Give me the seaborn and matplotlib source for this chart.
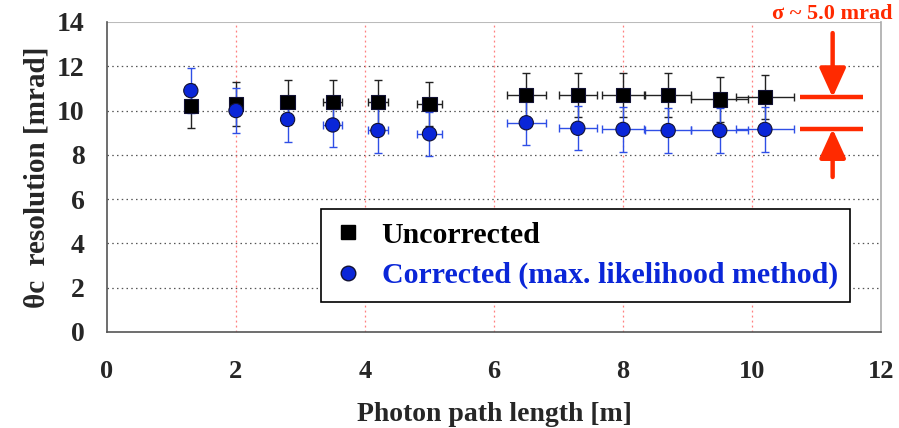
import matplotlib
matplotlib.use("Agg")
import matplotlib.pyplot as plt
from matplotlib.lines import Line2D
import numpy as np
import pandas as pd
import seaborn as sns

# ---- data ----
path_length = [1.3, 2.0, 2.8, 3.5, 4.2, 5.0, 6.5, 7.3, 8.0, 8.7, 9.5, 10.2]
uncorrected = [10.2, 10.3, 10.4, 10.4, 10.4, 10.3, 10.7, 10.7, 10.7, 10.7, 10.5, 10.6]
corrected = [10.9, 10.0, 9.6, 9.35, 9.1, 8.95, 9.45, 9.2, 9.15, 9.1, 9.1, 9.15]
x_err = [0.0, 0.0, 0.0, 0.15, 0.15, 0.19, 0.3, 0.3, 0.33, 0.36, 0.44, 0.45]
unc_yerr = [1.0] * 12
cor_yerr = [1.0] * 12
x_ticks = [0, 2, 4, 6, 8, 10, 12]
y_ticks = [0, 2, 4, 6, 8, 10, 12, 14]
sigma_lines = [10.6, 9.17]
series_labels = ["Uncorrected", "Corrected (max. likelihood method)"]

df = pd.DataFrame({
    "x": path_length * 2,
    "y": uncorrected + corrected,
    "series": [series_labels[0]] * 12 + [series_labels[1]] * 12,
})

sns.set_style("white")
plt.rcParams["font.family"] = ["Liberation Serif", "DejaVu Serif"]
plt.rcParams["font.weight"] = "bold"

BLUE = "#0a26d8"
BLUE_BAR = "#2f4fe6"
RED = "#ff2a00"

fig = plt.figure(figsize=(8.99, 4.28), dpi=100)
ax = fig.add_axes([0.119, 0.2243, 0.861, 0.7243])

# grid
for yv in y_ticks[1:-1]:
    ax.axhline(yv, color="#555555", lw=0.9, ls=(0, (1.2, 2.6)), zorder=0)
ax.axhline(14, color="#bbbbbb", lw=1.5, zorder=0)
for xv in x_ticks[1:-1]:
    ax.axvline(xv, color="#ff7f7f", lw=0.9, ls=(0, (1.5, 2.5)), zorder=0)

# error bars
ax.errorbar(path_length, uncorrected, yerr=unc_yerr, xerr=x_err, fmt="none",
            ecolor="#222222", elinewidth=1.0, capsize=3, capthick=1.0, zorder=2)
ax.errorbar(path_length, corrected, yerr=cor_yerr, xerr=x_err, fmt="none",
            ecolor=BLUE_BAR, elinewidth=1.0, capsize=3, capthick=1.0, zorder=2)

sns.scatterplot(data=df, x="x", y="y", hue="series", style="series",
                palette={series_labels[0]: "black", series_labels[1]: BLUE},
                markers={series_labels[0]: "s", series_labels[1]: "o"},
                s=105, edgecolor="#111133", linewidth=0.8, ax=ax, zorder=3, legend=False)

ax.set_xlim(0, 12)
ax.set_ylim(0, 14)
ax.set_xticks(x_ticks)
ax.set_yticks(y_ticks)
ax.tick_params(axis="x", labelsize=19, direction="out", length=6, width=1, color="#555555", pad=14)
ax.tick_params(axis="y", labelsize=20, direction="out", length=6, width=1, color="#555555", pad=10)
for lab in ax.get_xticklabels() + ax.get_yticklabels():
    lab.set_fontweight("bold")

ax.set_xlabel("Photon path length [m]", fontsize=20, fontweight="bold", labelpad=14)
ax.set_ylabel("θc  resolution [mrad]", fontsize=21, fontweight="bold", labelpad=5)

for side in ["left", "bottom"]:
    ax.spines[side].set_color("#555555")
    ax.spines[side].set_linewidth(1.2)
ax.spines["right"].set_color("#aaaaaa")
ax.spines["right"].set_linewidth(1.2)
ax.spines["top"].set_visible(False)

# sigma annotation
ax.hlines(sigma_lines, 10.74, 11.72, color=RED, lw=3.2, zorder=4)
ax.annotate("", xy=(11.25, sigma_lines[0]), xytext=(11.25, 13.5),
            arrowprops=dict(arrowstyle="-|>,head_length=1.1,head_width=0.5",
                            color=RED, lw=3.2, shrinkA=0, shrinkB=0, mutation_scale=16))
ax.annotate("", xy=(11.25, sigma_lines[1]), xytext=(11.25, 7.0),
            arrowprops=dict(arrowstyle="-|>,head_length=1.1,head_width=0.5",
                            color=RED, lw=3.2, shrinkA=0, shrinkB=0, mutation_scale=16))
ax.text(11.25, 14.34, "σ ~ 5.0 mrad", color=RED, fontsize=16, fontweight="bold",
        ha="center", va="center")

# legend
handles = [
    Line2D([], [], marker="s", ls="none", color="black", markersize=9.5),
    Line2D([], [], marker="o", ls="none", markerfacecolor=BLUE, markeredgecolor="#111133",
           markersize=10.5),
]
leg = ax.legend(handles, series_labels, loc="lower left", bbox_to_anchor=(0.276, 0.097),
                fontsize=21.5, frameon=True, fancybox=False, framealpha=1,
                edgecolor="black", borderpad=0.42, labelspacing=0.45, handletextpad=0.62,
                handlelength=1.0, borderaxespad=0, labelcolor=["black", BLUE])
leg.get_frame().set_linewidth(1.2)
for t in leg.get_texts():
    t.set_fontweight("bold")

fig.savefig("out.png", dpi=100)
